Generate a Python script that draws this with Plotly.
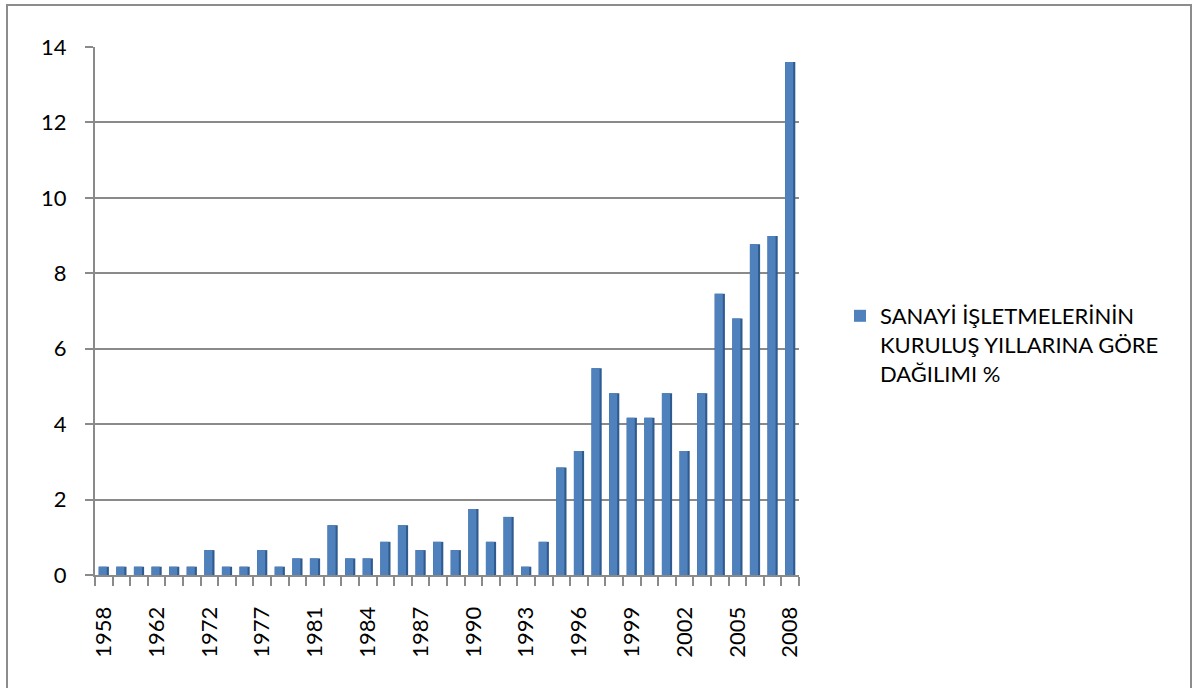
import plotly.graph_objects as go

years = ["1958", "1959", "1960", "1962", "1965", "1968", "1972", "1974", "1975", "1977",
         "1978", "1980", "1981", "1982", "1983", "1984", "1985", "1986", "1987", "1988",
         "1989", "1990", "1991", "1992", "1993", "1994", "1995", "1996", "1997", "1998",
         "1999", "2000", "2001", "2002", "2003", "2004", "2005", "2006", "2007", "2008"]
values = [0.22, 0.22, 0.22, 0.22, 0.22, 0.22, 0.66, 0.22, 0.22, 0.66,
          0.22, 0.44, 0.44, 1.32, 0.44, 0.44, 0.88, 1.32, 0.66, 0.88,
          0.66, 1.75, 0.88, 1.54, 0.22, 0.88, 2.85, 3.29, 5.48, 4.82,
          4.17, 4.17, 4.82, 3.29, 4.82, 7.46, 6.80, 8.77, 8.99, 13.60]
series_name = "SANAYİ İŞLETMELERİNİN<br>KURULUŞ YILLARINA GÖRE<br>DAĞILIMI %"

positions = list(range(len(years)))
label_pos = positions[::3]
label_txt = years[::3]

W, H = 1193, 688
L, R, T, B = 95, 394, 47, 113
pw, ph = W - L - R, H - T - B

FONT = "Lato, 'Open Sans', sans-serif"
GRID = "#8a8a8a"

fig = go.Figure()
# darker side face (pseudo 3D)
fig.add_trace(go.Bar(x=positions, y=values, width=0.58, offset=-0.29,
                     marker=dict(color="#2f5b8f", line=dict(width=0)),
                     showlegend=False, hoverinfo="skip"))
# front face
fig.add_trace(go.Bar(x=positions, y=values, width=0.46, offset=-0.29,
                     name=series_name,
                     marker=dict(color="#4f81bd", line=dict(width=0))))

def px_x(p):
    return (p - L) / pw

def px_y(p):
    return (H - B - p) / ph

fig.add_shape(type="rect", xref="paper", yref="paper",
              x0=px_x(7), x1=px_x(1191), y0=px_y(700), y1=px_y(5),
              line=dict(color="#8c8c8c", width=2), fillcolor="rgba(0,0,0,0)", layer="below")

fig.update_layout(
    width=W, height=H,
    margin=dict(l=L, r=R, t=T, b=B, autoexpand=False),
    paper_bgcolor="white", plot_bgcolor="white",
    barmode="overlay",
    font=dict(family=FONT, size=22, color="#000000"),
    showlegend=True,
    legend=dict(x=px_x(840), y=px_y(295), xanchor="left", yanchor="top",
                valign="top", font=dict(family=FONT, size=22, color="#000000"),
                bgcolor="rgba(0,0,0,0)", tracegroupgap=0, itemsizing="constant"),
)
fig.update_xaxes(
    range=[-0.5, len(years) - 0.5],
    tickmode="array", tickvals=label_pos, ticktext=label_txt,
    tickangle=-90, ticks="", ticklabelstandoff=21,
    showgrid=False, zeroline=False,
    showline=True, linecolor=GRID, linewidth=2,
    minor=dict(tickmode="linear", tick0=-0.5, dtick=1, ticks="outside",
               ticklen=9, tickcolor=GRID, tickwidth=2, showgrid=False),
    tickfont=dict(family=FONT, size=22, color="#000000"),
    fixedrange=True,
)
fig.update_yaxes(
    range=[0, 14], dtick=2, tick0=0,
    ticks="outside", ticklen=8, tickcolor=GRID, tickwidth=2,
    ticklabelstandoff=14,
    showgrid=True, gridcolor=GRID, gridwidth=2,
    zeroline=False, showline=True, linecolor=GRID, linewidth=2,
    tickfont=dict(family=FONT, size=22, color="#000000"),
    fixedrange=True,
)

fig.write_html("out.html", config={"displayModeBar": False},
               post_script="document.body.style.margin='0';document.body.style.overflow='hidden';")
